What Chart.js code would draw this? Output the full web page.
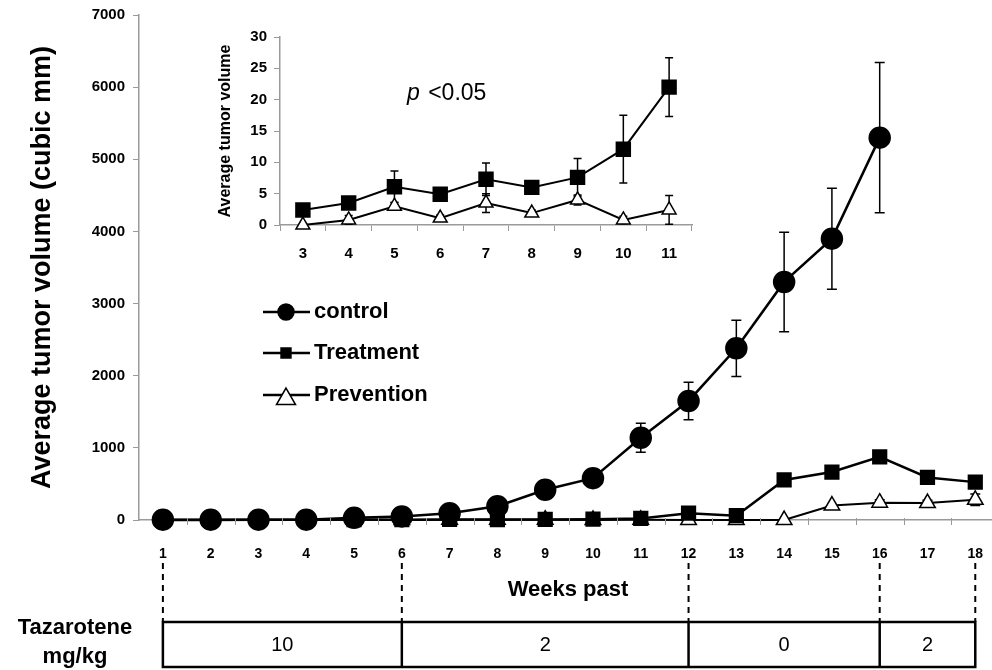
<!DOCTYPE html>
<html>
<head>
<meta charset="utf-8">
<script src="https://cdn.jsdelivr.net/npm/chart.js@4.4.1/dist/chart.umd.min.js"></script>
<style>
  html, body { margin: 0; padding: 0; background: #fff; overflow: hidden; }
  #wrap { position: relative; width: 992px; height: 670px; }
  #mainChart { position: absolute; left: 0; top: 0; }
  #insetChart { position: absolute; left: 180px; top: 20px; }
</style>
</head>
<body>
<div id="wrap">
  <canvas id="mainChart" width="992" height="670"></canvas>
  <canvas id="insetChart" width="520" height="270"></canvas>
</div>
<script>
// ---- main chart data (weeks 1-18) ----
const weeks = [1, 2, 3, 4, 5, 6, 7, 8, 9, 10, 11, 12, 13, 14, 15, 16, 17, 18];
const controlVol = [5, 5, 5, 5, 30, 50, 95, 190, 420, 580, 1140, 1650, 2380, 3300, 3900, 5300];
const controlErr = [0, 0, 0, 0, 0, 0, 0, 30, 40, 50, 200, 260, 390, 690, 700, 1040];
const treatmentVol = [0, 0, 2.4, 3.5, 6.1, 4.9, 7.3, 6.0, 7.6, 12.1, 22.0, 95, 60, 555, 665, 875, 590, 525];
const treatmentErr = [0, 0, 0, 0, 0, 0, 0, 0, 0, 0, 0, 0, 0, 0, 0, 0, 70, 0];
const preventionVol = [0, 0, 0, 0.8, 3.0, 1.1, 3.5, 1.9, 4.0, 0.8, 2.4, 0, 0, 0, 200, 240, 235, 280];
const preventionErr = [0, 0, 0, 0, 0, 0, 0, 0, 0, 0, 0, 0, 0, 0, 0, 40, 40, 80];
const yTicksMain = [0, 1000, 2000, 3000, 4000, 5000, 6000, 7000];

// ---- dosing schedule ----
const doseStart = [1, 6, 12, 16];
const doseEnd = [6, 12, 16, 18];
const doseLabels = ["10", "2", "0", "2"];

// ---- inset data (weeks 3-11) ----
const insetWeeks = ["3", "4", "5", "6", "7", "8", "9", "10", "11"];
const insetTreatment = [2.4, 3.5, 6.1, 4.9, 7.3, 6.0, 7.6, 12.1, 22.0];
const insetTreatmentErr = [0, 0.6, 2.5, 0, 2.6, 0, 3.0, 5.4, 4.7];
const insetPrevention = [0, 0.8, 3.0, 1.1, 3.5, 1.9, 4.0, 0.8, 2.4];
const insetPreventionErr = [0, 0.7, 0.6, 0.5, 1.5, 0.5, 0.8, 0.6, 2.3];

const FONT = "'Liberation Sans', Arial, sans-serif";
const AXIS_GREY = "#9a9a9a";

function toXY(values) {
  return values.map((v, i) => ({ x: weeks[i], y: v }));
}

// stop the axes from reserving room for label overhang
function noOverhang(s) {
  s.paddingLeft = 0;
  s.paddingRight = 0;
  s.paddingTop = 0;
  s.paddingBottom = 0;
}

// error bars drawn under the markers
const errorBars = {
  id: "errorBars",
  beforeDatasetsDraw(chart, args, opts) {
    const ctx = chart.ctx;
    const yScale = chart.scales.y;
    chart.data.datasets.forEach((ds, di) => {
      if (!ds.errors) return;
      const meta = chart.getDatasetMeta(di);
      ctx.save();
      ctx.strokeStyle = "#000";
      ctx.lineWidth = 1.5;
      meta.data.forEach((pt, i) => {
        const e = ds.errors[i];
        if (!e) return;
        const raw = ds.data[i];
        const v = typeof raw === "object" ? raw.y : raw;
        const yTop = yScale.getPixelForValue(v + e);
        const yBot = yScale.getPixelForValue(v - e);
        const cap = opts.cap || 5;
        ctx.beginPath();
        ctx.moveTo(pt.x, yTop); ctx.lineTo(pt.x, yBot);
        ctx.moveTo(pt.x - cap, yTop); ctx.lineTo(pt.x + cap, yTop);
        ctx.moveTo(pt.x - cap, yBot); ctx.lineTo(pt.x + cap, yBot);
        ctx.stroke();
      });
      ctx.restore();
    });
  }
};

// ticks between weeks, dosing schedule, legend, annotations
const mainExtras = {
  id: "mainExtras",
  afterDraw(chart) {
    const ctx = chart.ctx;
    const xs = chart.scales.x;
    const area = chart.chartArea;
    ctx.save();

    // x tick marks between categories
    ctx.strokeStyle = AXIS_GREY;
    ctx.lineWidth = 1;
    for (let k = 0; k < weeks.length; k++) {
      const px = Math.round(xs.getPixelForValue(weeks[k] + 0.5)) + 0.5;
      if (px > area.right) break;
      ctx.beginPath();
      ctx.moveTo(px, area.bottom - 2);
      ctx.lineTo(px, area.bottom + 5);
      ctx.stroke();
    }

    // dashed guides from the week labels down to the dose box
    const boxTop = 622, boxBottom = 667;
    const guideWeeks = doseStart.concat([doseEnd[doseEnd.length - 1]]);
    ctx.strokeStyle = "#000";
    ctx.lineWidth = 2;
    ctx.setLineDash([6, 5]);
    guideWeeks.forEach(w => {
      const px = xs.getPixelForValue(w);
      ctx.beginPath();
      ctx.moveTo(px, 563);
      ctx.lineTo(px, boxTop);
      ctx.stroke();
    });
    ctx.setLineDash([]);

    // dose box
    ctx.lineWidth = 2.5;
    const x0 = xs.getPixelForValue(doseStart[0]);
    const x1 = xs.getPixelForValue(doseEnd[doseEnd.length - 1]);
    ctx.strokeRect(x0, boxTop, x1 - x0, boxBottom - boxTop);
    ctx.fillStyle = "#000";
    ctx.font = "20px " + FONT;
    ctx.textAlign = "center";
    ctx.textBaseline = "middle";
    doseLabels.forEach((lab, i) => {
      const a = xs.getPixelForValue(doseStart[i]);
      const b = xs.getPixelForValue(doseEnd[i]);
      if (i > 0) {
        ctx.beginPath();
        ctx.moveTo(a, boxTop);
        ctx.lineTo(a, boxBottom);
        ctx.stroke();
      }
      ctx.fillText(lab, (a + b) / 2, (boxTop + boxBottom) / 2 + 1);
    });

    // axis caption and dose caption
    ctx.font = "bold 22px " + FONT;
    ctx.fillText("Weeks past", 568, 590);
    ctx.fillText("Tazarotene", 75, 628);
    ctx.fillText("mg/kg", 75, 657);

    // legend
    const rows = [312, 353, 395];
    const legendSizes = [8, 7, 11];
    chart.data.datasets.forEach((ds, i) => {
      const y = rows[i];
      ctx.strokeStyle = "#000";
      ctx.lineWidth = 2.5;
      ctx.beginPath();
      ctx.moveTo(263, y);
      ctx.lineTo(310, y);
      ctx.stroke();
      ctx.fillStyle = ds.pointBackgroundColor;
      ctx.lineWidth = 1.5;
      Chart.helpers.drawPoint(ctx, {
        pointStyle: ds.pointStyle, radius: legendSizes[i], rotation: 0, borderWidth: 1.5
      }, 286, ds.pointStyle === "triangle" ? y + 4 : y);
      ctx.fillStyle = "#000";
      ctx.font = "bold 22px " + FONT;
      ctx.textAlign = "left";
      ctx.fillText(ds.label, 314, y);
    });
    ctx.restore();
  }
};

const mainChart = new Chart(document.getElementById("mainChart"), {
  type: "line",
  data: {
    datasets: [
      {
        label: "control",
        data: toXY(controlVol),
        errors: controlErr,
        borderColor: "#000",
        borderWidth: 2.5,
        pointStyle: "circle",
        pointRadius: 10,
        pointBackgroundColor: "#000",
        pointBorderColor: "#000",
        clip: false
      },
      {
        label: "Treatment",
        data: toXY(treatmentVol),
        errors: treatmentErr,
        borderColor: "#000",
        borderWidth: 2.5,
        pointStyle: "rect",
        pointRadius: 9,
        pointBackgroundColor: "#000",
        pointBorderColor: "#000",
        clip: false
      },
      {
        label: "Prevention",
        data: toXY(preventionVol),
        errors: preventionErr,
        borderColor: "#000",
        borderWidth: 2,
        pointStyle: "triangle",
        pointRadius: 9,
        pointBorderWidth: 1.5,
        pointBackgroundColor: "#fff",
        pointBorderColor: "#000",
        clip: false
      }
    ]
  },
  options: {
    responsive: false,
    animation: false,
    devicePixelRatio: 1,
    layout: { autoPadding: false, padding: { left: 0, right: 0, top: 15, bottom: 90 } },
    plugins: {
      legend: { display: false },
      tooltip: { enabled: false },
      errorBars: { cap: 5 }
    },
    scales: {
      x: {
        type: "linear",
        min: 0.5,
        max: 18.35,
        afterBuildTicks: s => { s.ticks = weeks.map(w => ({ value: w })); },
        afterFit: s => { s.height = 60; noOverhang(s); },
        grid: { display: false },
        border: { color: AXIS_GREY, width: 1.5 },
        ticks: {
          color: "#000",
          padding: 18,
          maxRotation: 0,
          autoSkip: false,
          font: { family: FONT, size: 14, weight: "bold" }
        }
      },
      y: {
        min: 0,
        max: 7000,
        afterBuildTicks: s => { s.ticks = yTicksMain.map(v => ({ value: v })); },
        afterFit: s => { s.width = 139; noOverhang(s); },
        grid: { drawOnChartArea: false, tickLength: 6, color: AXIS_GREY },
        border: { color: AXIS_GREY, width: 1.5 },
        ticks: {
          color: "#000",
          padding: 8,
          callback: v => String(v),
          font: { family: FONT, size: 15, weight: "bold" }
        },
        title: {
          display: true,
          text: "Average tumor volume (cubic mm)",
          color: "#000",
          padding: { top: 26, bottom: 0 },
          font: { family: FONT, size: 27, weight: "bold" }
        }
      }
    }
  },
  plugins: [errorBars, mainExtras]
});

// ---- inset ----
const insetExtras = {
  id: "insetExtras",
  afterDraw(chart) {
    const ctx = chart.ctx;
    ctx.save();
    ctx.fillStyle = "#000";
    ctx.textBaseline = "middle";
    ctx.textAlign = "left";
    ctx.font = "italic 23px " + FONT;
    ctx.fillText("p", 227, 74);
    const w = ctx.measureText("p ").width;
    ctx.font = "23px " + FONT;
    ctx.fillText("<0.05", 227 + w + 2, 74);
    ctx.restore();
  }
};

const insetChart = new Chart(document.getElementById("insetChart"), {
  type: "line",
  data: {
    labels: insetWeeks,
    datasets: [
      {
        label: "Treatment",
        data: insetTreatment,
        errors: insetTreatmentErr,
        borderColor: "#000",
        borderWidth: 2,
        pointStyle: "rect",
        pointRadius: 9.5,
        pointBackgroundColor: "#000",
        pointBorderColor: "#000",
        clip: false
      },
      {
        label: "Prevention",
        data: insetPrevention,
        errors: insetPreventionErr,
        borderColor: "#000",
        borderWidth: 2,
        pointStyle: "triangle",
        pointRadius: 8,
        pointBorderWidth: 1.5,
        pointBackgroundColor: "#fff",
        pointBorderColor: "#000",
        clip: false
      }
    ]
  },
  options: {
    responsive: false,
    animation: false,
    devicePixelRatio: 1,
    layout: { autoPadding: false, padding: { left: 0, right: 8, top: 17, bottom: 20 } },
    plugins: {
      legend: { display: false },
      tooltip: { enabled: false },
      errorBars: { cap: 4 }
    },
    scales: {
      x: {
        type: "category",
        offset: true,
        afterFit: s => { s.height = 45; noOverhang(s); },
        grid: { drawOnChartArea: false, offset: true, tickLength: 6, color: AXIS_GREY },
        border: { color: AXIS_GREY, width: 1.5 },
        ticks: {
          color: "#000",
          padding: 14,
          maxRotation: 0,
          font: { family: FONT, size: 15, weight: "bold" }
        }
      },
      y: {
        min: 0,
        max: 30,
        ticks: {
          stepSize: 5,
          color: "#000",
          padding: 7,
          font: { family: FONT, size: 15, weight: "bold" }
        },
        afterFit: s => { s.width = 100; noOverhang(s); },
        grid: { drawOnChartArea: false, tickLength: 6, color: AXIS_GREY },
        border: { color: AXIS_GREY, width: 1.5 },
        title: {
          display: true,
          text: "Average tumor volume",
          color: "#000",
          padding: { top: 36, bottom: 0 },
          font: { family: FONT, size: 16, weight: "bold" }
        }
      }
    }
  },
  plugins: [errorBars, insetExtras]
});
</script>
</body>
</html>
